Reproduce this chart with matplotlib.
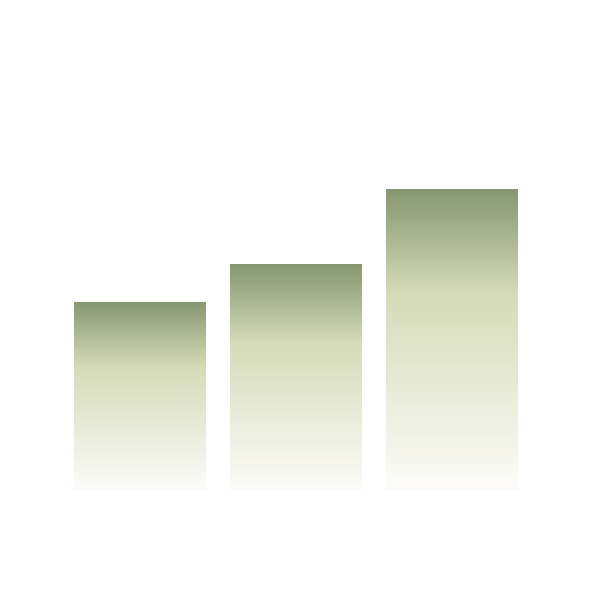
import numpy as np
import matplotlib
matplotlib.use("Agg")
import matplotlib.pyplot as plt
from matplotlib.colors import LinearSegmentedColormap

categories = ["A", "B", "C"]
values = [5, 6, 8]

# top olive -> pale sage -> near white at the base
cmap = LinearSegmentedColormap.from_list(
    "sage", [(0.0, "#fdfcfa"), (0.65, "#d6dbb9"), (1.0, "#86976f")])

fig = plt.figure(figsize=(5.92, 5.91), dpi=100)
ax = fig.add_axes([0, 0, 1, 1])
ax.set_xlim(-0.8942, 2.9006)
ax.set_ylim(-2.684, 13.023)
ax.axis("off")

x = np.arange(len(categories))
bars = ax.bar(x, values, width=0.84, color="none", edgecolor="none")

grad = np.linspace(0, 1, 256).reshape(-1, 1)
for b in bars:
    x0, y0 = b.get_x(), b.get_y()
    w, h = b.get_width(), b.get_height()
    im = ax.imshow(grad, cmap=cmap, aspect="auto", origin="lower",
                   extent=[x0, x0 + w, y0, y0 + h], interpolation="bilinear")
    im.set_clip_path(b)

fig.savefig("out.png", dpi=100)
